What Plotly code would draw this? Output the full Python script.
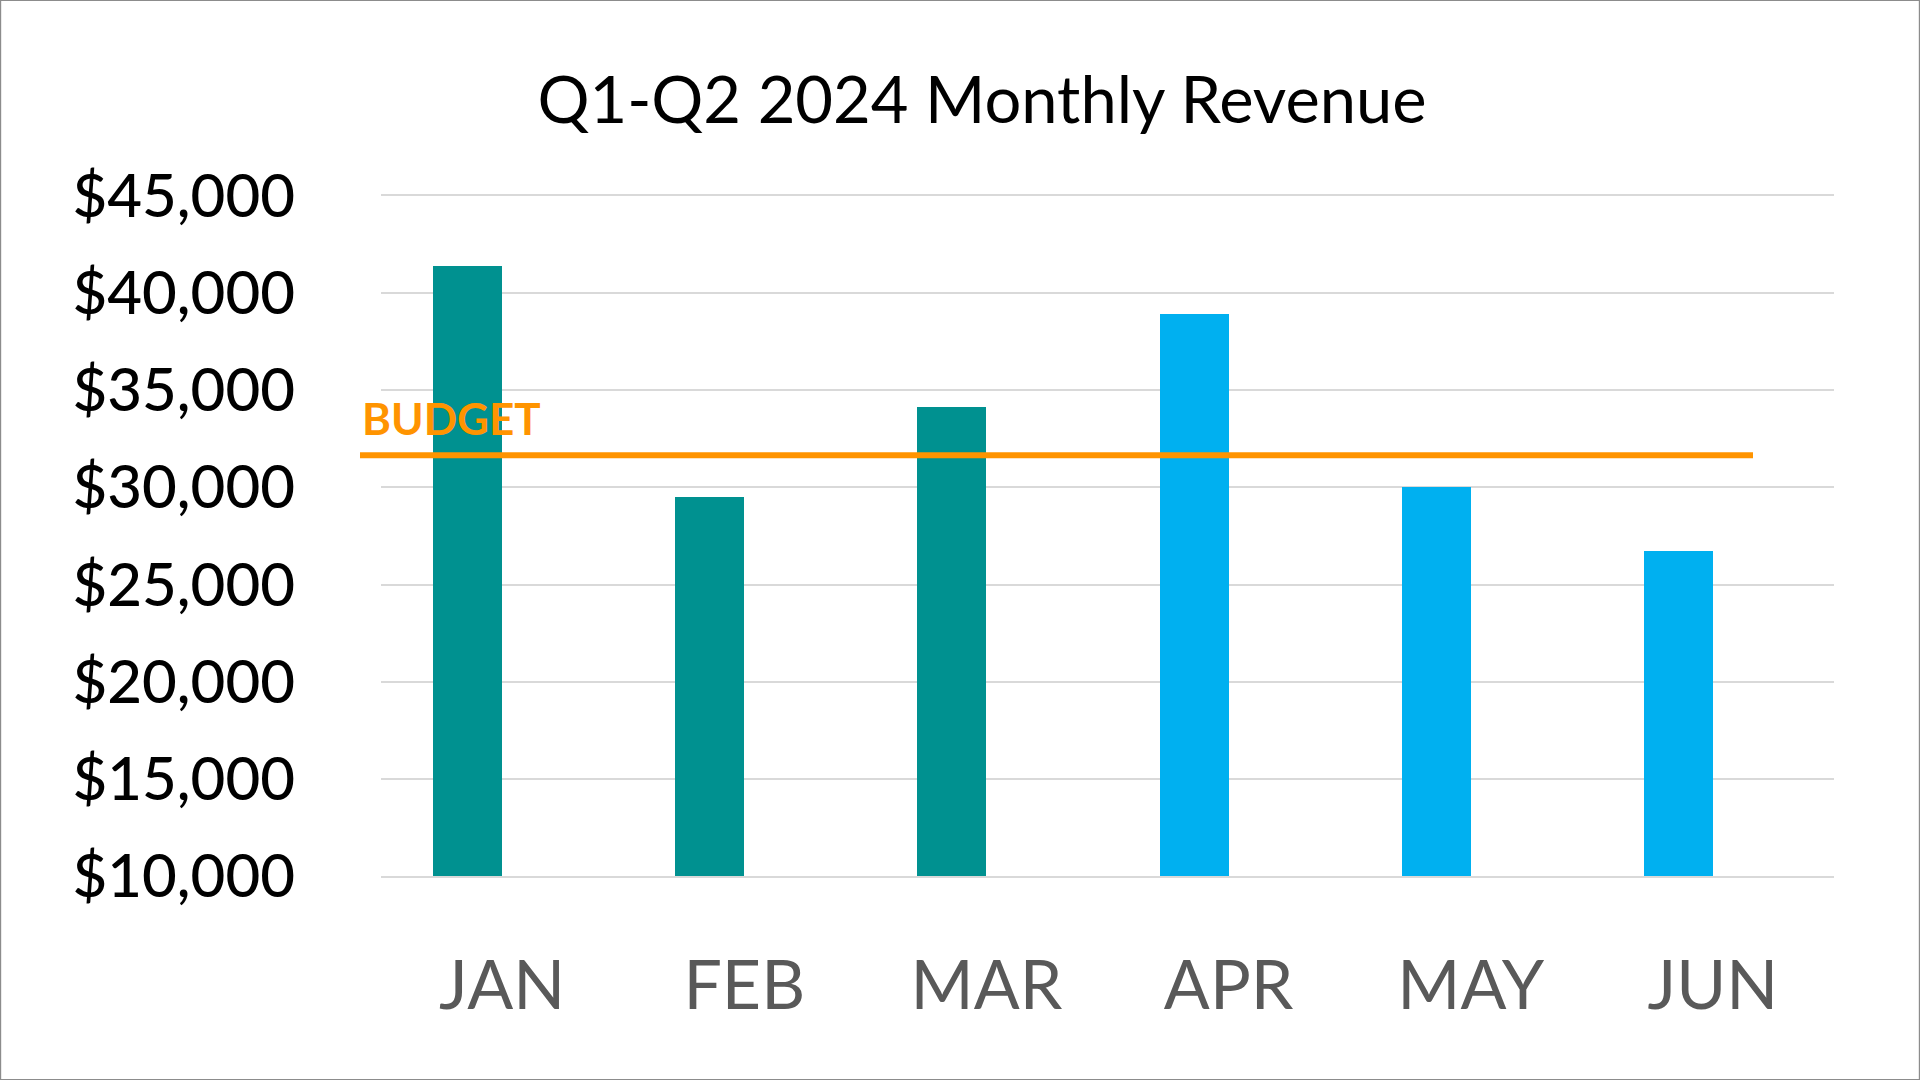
import plotly.graph_objects as go

# Monthly revenue, Q1 (teal) and Q2 (blue)
months = ["JAN", "FEB", "MAR", "APR", "MAY", "JUN"]
revenue = [41400, 29500, 34150, 38950, 30000, 26750]
quarter = ["Q1", "Q1", "Q1", "Q2", "Q2", "Q2"]
budget = 31650

y_ticks = [10000, 15000, 20000, 25000, 30000, 35000, 40000, 45000]
y_tick_text = [f"${v:,}" for v in y_ticks]
quarter_colors = {"Q1": "#009190", "Q2": "#00B0F0"}

W, H = 1920, 1080
margin = dict(l=381, r=86, t=196, b=204)
plot_w = W - margin["l"] - margin["r"]
plot_h = H - margin["t"] - margin["b"]

bar_w = 0.285

fig = go.Figure()

fig.add_trace(
    go.Bar(
        x=months,
        y=revenue,
        marker=dict(color=[quarter_colors[q] for q in quarter], line=dict(width=0)),
        width=bar_w,
        offset=-bar_w,  # bars sit left of the category centre, like the original
        showlegend=False,
    )
)

# budget line and its label
fig.add_shape(
    type="line",
    xref="paper", yref="y",
    x0=-21 / plot_w, x1=1372 / plot_w,
    y0=budget, y1=budget,
    line=dict(color="#FF9400", width=6),
    layer="above",
)
fig.add_annotation(
    text="<b>BUDGET</b>",
    xref="paper", yref="y",
    x=-21 / plot_w, y=budget,
    xanchor="left", yanchor="middle",
    yshift=37,
    showarrow=False,
    font=dict(family="Lato", size=44, color="#FF9400"),
)

# thin grey frame around the whole picture
fig.add_shape(
    type="rect",
    xref="paper", yref="paper",
    x0=-margin["l"] / plot_w + 0.0003, x1=1 + margin["r"] / plot_w - 0.0003,
    y0=-margin["b"] / plot_h + 0.0005, y1=1 + margin["t"] / plot_h - 0.0005,
    line=dict(color="#8c8c8c", width=1.5),
)

fig.update_layout(
    width=W,
    height=H,
    margin=margin,
    paper_bgcolor="white",
    plot_bgcolor="white",
    bargap=0,
    title=dict(
        text="Q1-Q2 2024 Monthly Revenue",
        x=982 / W, xanchor="center",
        y=1 - 100 / H, yanchor="middle",
        font=dict(family="Lato", size=65, color="black"),
    ),
    xaxis=dict(
        showgrid=False,
        showline=True,
        mirror=True,  # top line doubles as the $45,000 gridline
        linecolor="#d9d9d9",
        linewidth=1.5,
        ticks="",
        ticklabelstandoff=50,
        tickfont=dict(family="Lato", size=68, color="#595959"),
    ),
    yaxis=dict(
        range=[y_ticks[0], y_ticks[-1]],
        tickvals=y_ticks,
        ticktext=y_tick_text,
        showgrid=True,
        gridcolor="#d9d9d9",
        gridwidth=1.5,
        zeroline=False,
        showline=False,
        ticks="",
        ticklabelstandoff=85,
        tickfont=dict(family="Lato", size=60, color="black", weight=500),
    ),
)

fig.write_html(
    "out.html",
    config={"displayModeBar": False},
    post_script="document.body.style.margin='0';",
)
